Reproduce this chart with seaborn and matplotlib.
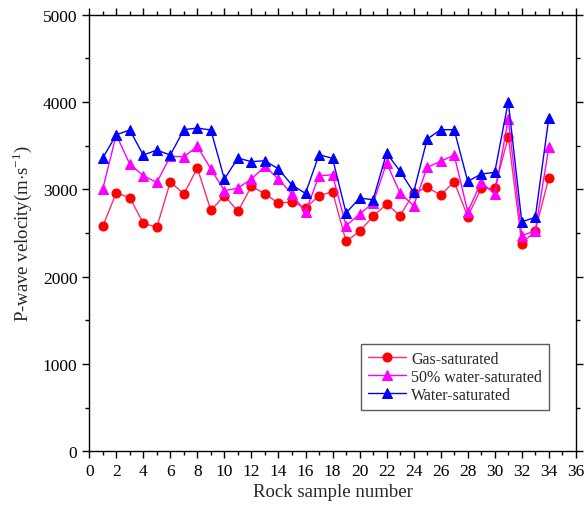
import numpy as np
import pandas as pd
import matplotlib
matplotlib.use("Agg")
import matplotlib.pyplot as plt
import seaborn as sns
from matplotlib.ticker import MultipleLocator

sns.set_style("ticks")
plt.rcParams["font.family"] = ["Liberation Serif", "DejaVu Serif"]
plt.rcParams["mathtext.fontset"] = "custom"
plt.rcParams["mathtext.rm"] = "Liberation Serif"

samples = list(range(1, 35))
gas = [2577, 2962, 2905, 2615, 2566, 3088, 2947, 3245, 2760, 2928,
       2749, 3035, 2951, 2841, 2860, 2787, 2928, 2974, 2405, 2520,
       2692, 2833, 2699, 2958, 3024, 2936, 3088, 2688, 3012, 3012,
       3604, 2378, 2527, 3134]
half_water = [3004, 3625, 3291, 3157, 3081, 3379, 3375, 3493, 3234, 2985,
              3016, 3119, 3264, 3119, 2947, 2737, 3157, 3168, 2584, 2718,
              2844, 3302, 2958, 2813, 3253, 3322, 3394, 2745, 3081, 2947,
              3806, 2470, 2527, 3481]
water = [3360, 3627, 3680, 3394, 3451, 3394, 3684, 3703, 3680, 3119,
         3360, 3318, 3329, 3234, 3050, 2955, 3398, 3356, 2730, 2901,
         2882, 3417, 3207, 2966, 3577, 3684, 3684, 3093, 3176, 3196,
         4005, 2630, 2680, 3818]

series_names = ["Gas-saturated", "50% water-saturated", "Water-saturated"]
line_colors = ["#FF2A7F", "#FF00FF", "#0000FF"]
marker_colors = ["#FF0000", "#FF00FF", "#0000FF"]
markers = ["o", "^", "^"]

df = pd.DataFrame({"sample": samples, series_names[0]: gas,
                   series_names[1]: half_water, series_names[2]: water})

fig = plt.figure(figsize=(5.87, 5.10), dpi=100)
ax = fig.add_axes([0.152, 0.113, 0.829, 0.856])

for name, lc, mc, mk in zip(series_names, line_colors, marker_colors, markers):
    sns.lineplot(data=df, x="sample", y=name, ax=ax, color=lc, lw=1.0,
                 marker=mk, markersize=7 if mk == "^" else 6.5,
                 markerfacecolor=mc, markeredgecolor=mc, label=name)

ax.set_xlim(0, 36)
ax.set_ylim(0, 5000)
ax.xaxis.set_major_locator(MultipleLocator(2))
ax.xaxis.set_minor_locator(MultipleLocator(1))
ax.yaxis.set_major_locator(MultipleLocator(1000))
ax.yaxis.set_minor_locator(MultipleLocator(500))
ax.tick_params(which="both", direction="out", top=True, right=True,
               labeltop=False, labelright=False, labelsize=12.5, colors="black")
ax.tick_params(which="major", length=5, width=1)
ax.tick_params(which="minor", length=3, width=1)
for s in ax.spines.values():
    s.set_visible(True)
    s.set_linewidth(1.0)
    s.set_color("black")

ax.set_xlabel("Rock sample number", fontsize=13.5, labelpad=3)
ax.set_ylabel(r"P-wave velocity(m$\cdot$s$^{-1}$)", fontsize=13.5, labelpad=6)

leg = ax.legend(loc="lower right", bbox_to_anchor=(0.945, 0.095), frameon=True,
                borderaxespad=0, fancybox=False, edgecolor="#333333",
                fontsize=11.5, handlelength=2.4, handletextpad=0.3,
                borderpad=0.45, labelspacing=0.12)
leg.get_frame().set_linewidth(1.0)

fig.savefig("out.png", dpi=100)
